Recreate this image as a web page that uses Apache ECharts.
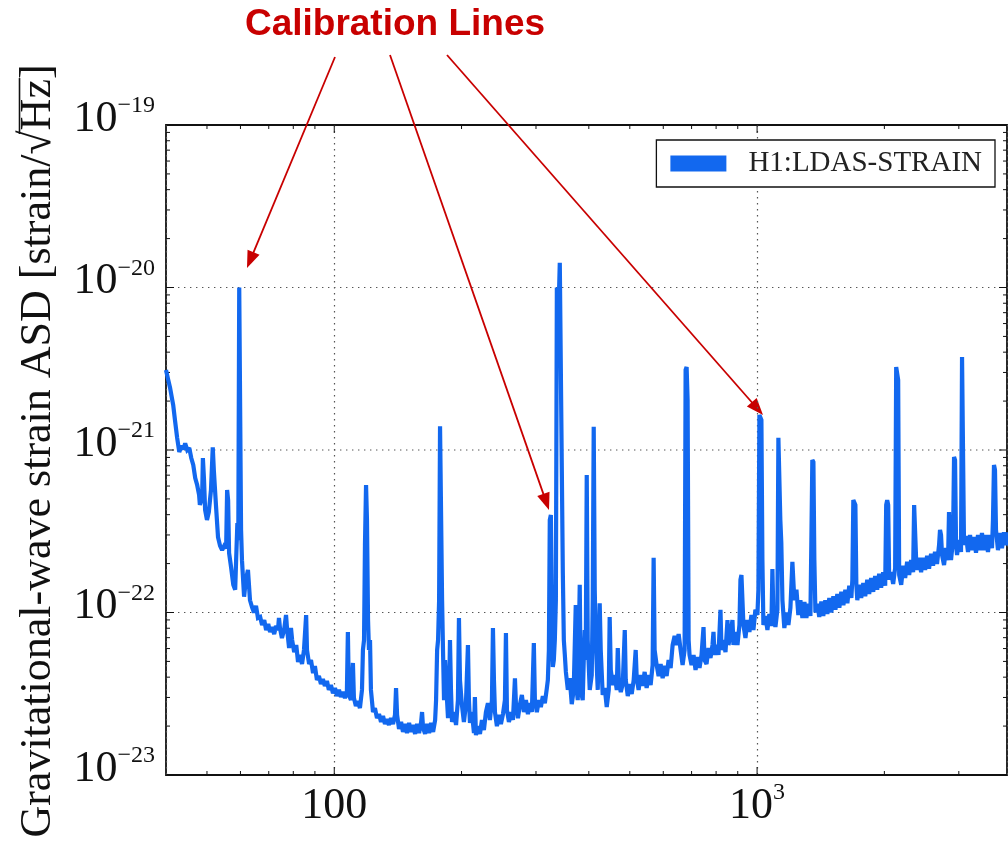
<!DOCTYPE html>
<html>
<head>
<meta charset="utf-8">
<script src="https://cdn.jsdelivr.net/npm/echarts@6/dist/echarts.min.js"></script>
<style>html,body{margin:0;padding:0;background:#fff}#chart{width:1008px;height:842px}</style>
</head>
<body>
<div id="chart"></div>
<script>
// ---- Data: [frequency Hz, ASD strain/sqrt(Hz)] ----
const seismicWall = [
[40.0,3.11e-21],[40.4,2.77e-21],[40.9,2.41e-21],[41.3,2.09e-21],[41.6,1.89e-21],[42.0,1.53e-21],[42.5,1.19e-21],[43.0,9.72e-22],
[43.5,1.06e-21],[44.0,1.01e-21],[44.4,1.10e-21],[44.9,1.00e-21],[45.4,1.03e-21],[45.9,8.93e-22],[46.4,8.09e-22],[46.9,6.73e-22],
[47.4,6.09e-22],[47.9,5.29e-22],[48.1,4.59e-22],[48.7,5.07e-22],[48.9,8.93e-22],[49.2,6.54e-22],[49.5,4.27e-22],[50.0,3.71e-22],
[50.5,4.15e-22],[51.1,5.67e-22],[51.6,1.04e-21],[51.9,7.53e-22],[52.5,4.59e-22],[53.1,2.91e-22],[53.7,2.57e-22],[54.3,2.42e-22],
[54.9,2.57e-22],[55.5,2.49e-22],[55.8,5.67e-22],[56.1,4.92e-22],[56.4,2.32e-22],[57.0,1.91e-22],[57.7,1.48e-22],[58.3,1.38e-22],
[58.6,2.10e-22],[59.0,3.55e-22],[59.3,2.79e-22],[59.6,1.00e-20],[59.9,1.00e-20],[60.2,3.22e-22],[60.5,2.10e-22],[61.2,1.25e-22],
[61.8,1.59e-22],[62.5,1.83e-22],[63.2,1.19e-22],[63.9,1.08e-22],[64.6,1.00e-22],[65.3,1.10e-22],[66.0,9.25e-23]
];
const lowBand = [
[66.8,9.38e-23],[67.5,8.38e-23],[68.3,8.99e-23],[69.0,7.80e-23],[69.8,8.50e-23],[70.5,7.59e-23],[71.3,8.14e-23],[72.1,7.37e-23],
[72.8,8.26e-23],[73.6,7.80e-23],[74.0,9.25e-23],[74.4,8.03e-23],[75.2,6.97e-23],[76.1,7.80e-23],[76.9,9.65e-23],[77.3,8.03e-23],
[78.2,6.05e-23],[79.0,8.03e-23],[79.5,6.77e-23],[80.4,5.71e-23],[81.3,6.31e-23],[82.1,4.96e-23],[83.0,5.48e-23],[83.9,4.82e-23],
[84.8,5.88e-23],[85.8,9.65e-23],[86.2,5.88e-23],[87.2,4.82e-23],[88.1,5.10e-23],[89.1,4.24e-23],[90.0,4.69e-23],[91.0,3.84e-23],
[92.0,4.07e-23],[93.0,3.63e-23],[94.0,3.90e-23],[95.0,3.53e-23],[96.1,3.79e-23],[97.1,3.34e-23],[98.2,3.58e-23],[99.3,3.19e-23],
[100.4,3.43e-23],[101.5,3.06e-23],[102.6,3.34e-23],[103.7,3.02e-23],[104.8,3.24e-23],[106.0,2.98e-23],[107.1,3.15e-23],[107.7,7.59e-23],
[108.3,3.11e-23],[109.5,2.89e-23],[110.7,4.89e-23],[111.3,2.98e-23],[112.5,2.66e-23],[113.8,2.85e-23],[115.0,2.58e-23],[116.3,3.34e-23],
[116.9,5.88e-23],[117.6,6.77e-23],[118.2,2.60e-22],[118.9,6.09e-22],[119.5,3.71e-22],[120.2,8.99e-23],[120.8,5.88e-23],[121.5,6.77e-23],
[122.1,3.34e-23],[123.5,2.44e-23],[124.8,2.58e-23],[126.2,2.24e-23],[127.6,2.37e-23],[129.0,2.12e-23],[130.4,2.31e-23],[131.8,2.06e-23],
[133.3,2.21e-23],[134.7,2.03e-23],[136.2,2.24e-23],[137.7,2.06e-23],[139.2,2.34e-23],[140.0,3.43e-23],[140.8,2.34e-23],[142.3,1.92e-23]
];
const bucket = [
[143.9,2.12e-23],[145.4,1.84e-23],[147.0,2.06e-23],[148.6,1.81e-23],[150.3,2.09e-23],[151.9,1.84e-23],[153.6,2.03e-23],[155.3,1.79e-23],
[157.0,2.06e-23],[158.7,1.81e-23],[160.5,2.12e-23],[161.3,2.44e-23],[162.2,1.95e-23],[164.0,1.79e-23],[165.8,2.06e-23],[167.6,1.81e-23],
[169.4,2.09e-23],[171.3,1.84e-23],[173.2,2.18e-23],[174.1,2.89e-23],[175.1,5.88e-23],[176.0,6.77e-23],[177.0,1.19e-22],[177.9,1.40e-21],
[178.9,1.40e-21],[179.9,1.19e-22],[180.8,5.88e-23],[181.8,2.89e-23],[182.8,5.10e-23],[184.8,2.89e-23],[185.8,2.24e-23],[186.8,2.89e-23],
[187.8,6.77e-23],[188.8,3.34e-23],[189.9,2.12e-23],[192.0,2.44e-23],[194.1,2.03e-23],[196.1,2.89e-23],[197.2,9.25e-23],[198.3,3.84e-23],
[200.4,2.70e-23],[202.6,2.12e-23],[204.8,2.70e-23],[207.1,6.31e-23],[208.2,2.89e-23],[209.4,2.09e-23],[211.6,2.44e-23],[214.0,1.81e-23],
[215.1,3.02e-23],[216.3,1.76e-23],[218.6,2.00e-23],[221.1,1.79e-23],[223.5,2.18e-23],[225.9,1.89e-23],[228.4,2.44e-23],[230.9,2.77e-23],
[233.4,2.18e-23],[236.0,2.89e-23],[237.3,8.03e-23],[238.6,3.84e-23],[239.9,2.44e-23],[242.5,2.00e-23],[245.2,2.34e-23],[247.8,2.06e-23],
[250.6,2.37e-23],[253.3,2.89e-23],[254.7,7.48e-23],[256.1,2.51e-23],[258.9,2.12e-23],[261.7,2.44e-23],[264.6,2.18e-23],[267.5,3.94e-23],
[269.0,2.70e-23],[271.9,2.24e-23],[274.8,2.70e-23],[277.8,3.11e-23],[280.9,2.44e-23],[284.0,2.89e-23],[287.1,2.37e-23],[290.1,2.77e-23],
[293.3,2.44e-23],[296.5,6.49e-23],[298.2,2.89e-23],[301.4,2.44e-23],[304.7,2.89e-23],[308.0,2.62e-23],[311.4,3.06e-23],[314.8,2.77e-23],
[318.3,3.43e-23],[320.0,3.84e-23],[321.8,5.88e-23],[323.4,3.71e-22],[325.3,3.98e-22],[327.1,1.19e-22],[328.8,4.62e-23],[330.6,5.10e-23],
[332.4,6.77e-23],[334.3,1.19e-22],[336.1,1.00e-20],[337.9,1.00e-20],[339.7,8.38e-21],[341.5,1.42e-20],[343.4,1.42e-20],[345.3,7.53e-22],
[347.2,1.75e-22],[349.1,6.77e-23],[351.0,5.48e-23]
];
const midBand = [
[353.0,4.31e-23],[356.8,3.34e-23],[360.5,3.94e-23],[364.5,2.73e-23],[368.4,3.34e-23],[372.5,1.11e-22],[374.5,3.34e-23],[376.6,2.89e-23],
[380.7,1.48e-22],[382.8,3.34e-23],[386.9,2.89e-23],[389.1,5.10e-23],[391.2,7.80e-23],[393.3,5.10e-23],[395.5,7.02e-22],[397.6,6.77e-23],
[402.0,3.34e-23],[406.4,4.12e-23],[408.6,1.19e-22],[410.8,1.39e-21],[413.1,1.38e-22],[415.3,6.77e-23],[419.9,3.34e-23],[424.4,1.14e-22],
[426.8,5.88e-23],[431.4,3.11e-23],[436.2,3.43e-23],[441.0,2.62e-23],[445.9,3.34e-23],[448.1,9.38e-23],[450.8,4.43e-23],[455.7,3.58e-23],
[460.7,4.12e-23],[465.7,3.34e-23],[468.3,6.05e-23],[470.9,3.84e-23],[476.0,3.24e-23],[481.2,3.63e-23],[486.5,7.80e-23],[489.1,3.84e-23],
[494.5,3.06e-23],[499.6,3.63e-23],[505.2,3.15e-23],[510.7,3.84e-23],[516.3,5.88e-23],[519.2,3.94e-23],[524.6,3.34e-23],[530.4,4.12e-23],
[536.2,3.53e-23],[542.1,4.31e-23],[548.0,3.43e-23],[554.0,4.12e-23],[560.0,3.58e-23],[566.2,4.75e-23],[569.3,2.17e-22],[572.4,5.88e-23],
[578.7,4.75e-23],[585.0,4.06e-23],[591.4,4.82e-23],[597.9,3.94e-23],[604.4,4.69e-23],[611.0,4.06e-23],[617.7,5.10e-23],[624.5,4.55e-23],
[631.3,6.31e-23],[638.2,7.17e-23],[645.2,6.31e-23],[652.3,7.37e-23],[659.4,5.88e-23],[666.6,4.75e-23],[673.9,5.88e-23],[677.6,3.11e-21],
[681.3,3.24e-21],[685.0,2.03e-21],[688.8,6.77e-23],[692.2,5.48e-23],[699.9,4.75e-23],[707.6,5.48e-23],[715.3,4.43e-23],[723.2,5.32e-23],
[730.9,4.56e-23],[739.0,5.48e-23],[747.0,8.14e-23],[751.1,5.10e-23],[759.3,4.82e-23],[767.6,6.05e-23],[775.9,5.25e-23],[784.4,6.31e-23],
[788.7,7.59e-23],[793.0,5.48e-23],[801.6,6.31e-23],[810.4,5.48e-23],[819.3,1.04e-22],[823.8,5.88e-23],[832.8,6.77e-23],[841.9,5.71e-23],
[851.1,8.99e-23],[855.7,6.31e-23],[865.1,7.27e-23],[874.5,8.99e-23],[879.3,6.31e-23],[888.9,7.59e-23],[898.6,6.31e-23],[908.4,8.38e-23],
[913.4,1.59e-22],[918.4,1.70e-22],[923.4,1.19e-22],[928.4,8.38e-23],[938.6,6.97e-23],[948.9,8.99e-23],[959.1,7.59e-23],[969.6,9.65e-23],
[980.2,7.80e-23],[990.9,1.04e-22],[1001.8,9.65e-23],[1007.2,1.38e-22],[1012.7,1.64e-21],[1018.2,1.64e-21],[1023.8,1.53e-21],[1029.4,2.10e-22],
[1035.0,8.38e-23]
];
const highBand = [
[1046,9.51e-23],[1058,7.80e-23],[1069,9.79e-23],[1081,8.26e-23],[1087,1.85e-22],[1093,9.65e-23],[1105,8.14e-23],[1117,1.04e-22],
[1123,1.19e-21],[1129,1.19e-21],[1135,3.71e-22],[1141,2.68e-22],[1148,1.19e-22],[1160,8.03e-23],[1173,1.00e-22],[1186,8.38e-23],
[1199,1.07e-22],[1212,2.05e-22],[1218,1.59e-22],[1225,1.19e-22],[1239,1.38e-22],[1252,9.65e-23],[1266,1.19e-22],[1280,9.25e-23],
[1294,1.16e-22],[1308,9.25e-23],[1322,1.13e-22],[1337,9.52e-23],[1344,2.79e-22],[1351,8.68e-22],[1359,8.43e-22],[1366,2.10e-22],
[1374,1.00e-22],[1389,1.13e-22],[1403,9.38e-23],[1419,1.17e-22],[1434,9.52e-23],[1450,1.19e-22],[1466,9.79e-23],[1482,1.23e-22],
[1498,1.00e-22],[1515,1.26e-22],[1532,1.04e-22],[1548,1.30e-22],[1565,1.07e-22],[1582,1.34e-22],[1600,1.11e-22],[1617,1.38e-22],
[1635,1.14e-22],[1652,1.46e-22],[1671,1.23e-22],[1680,1.59e-22],[1689,4.92e-22],[1698,4.92e-22],[1708,4.59e-22],[1717,1.48e-22],
[1726,1.19e-22],[1744,1.48e-22],[1763,1.23e-22],[1783,1.52e-22],[1802,1.26e-22],[1822,1.59e-22],[1841,1.30e-22],[1861,1.63e-22],
[1882,1.34e-22],[1902,1.68e-22],[1923,1.38e-22],[1944,1.73e-22],[1965,1.42e-22],[1987,1.77e-22],[2009,1.46e-22],[2020,4.59e-22],
[2031,4.92e-22],[2042,4.59e-22],[2053,1.59e-22],[2075,1.77e-22],[2098,1.50e-22],[2121,1.88e-22],[2133,3.24e-21],[2144,3.24e-21],
[2156,2.70e-21],[2168,1.70e-22],[2192,1.48e-22],[2216,1.94e-22],[2240,1.63e-22],[2264,2.05e-22],[2289,1.70e-22],[2314,2.10e-22],
[2339,1.77e-22],[2352,4.59e-22],[2365,4.59e-22],[2378,2.10e-22],[2390,1.83e-22],[2416,2.17e-22],[2443,1.77e-22],[2470,2.17e-22],
[2497,1.83e-22],[2524,2.23e-22],[2551,1.86e-22],[2579,2.30e-22],[2607,1.94e-22],[2635,2.36e-22],[2664,1.99e-22],[2694,2.60e-22],
[2708,3.22e-22],[2723,3.00e-22],[2738,2.26e-22],[2768,1.96e-22],[2798,2.49e-22],[2829,2.10e-22],[2844,4.15e-22],[2860,2.42e-22],
[2875,2.10e-22],[2907,2.79e-22],[2923,9.06e-22],[2939,8.68e-22],[2955,2.60e-22],[2971,2.26e-22],[3003,2.79e-22],[3036,2.36e-22],
[3053,3.73e-21],[3069,3.73e-21],[3086,2.60e-22],[3120,2.96e-22],[3154,2.36e-22],[3189,3.00e-22],[3223,2.42e-22],[3259,2.91e-22],
[3294,2.33e-22],[3330,3.00e-22],[3367,2.42e-22],[3403,3.08e-22],[3441,2.42e-22],[3478,3.00e-22],[3516,2.36e-22],[3555,3.00e-22],
[3594,2.49e-22],[3613,3.71e-22],[3633,8.09e-22],[3653,7.53e-22],[3673,3.22e-22],[3713,2.42e-22],[3754,3.08e-22],[3795,2.49e-22],
[3836,3.12e-22],[3878,2.60e-22],[3920,3.12e-22]
];

// ---- Axes / ticks / texts ----
const X_MIN = 40, X_MAX = 3900, Y_MIN = 1e-23, Y_MAX = 1e-19;
const xMajorTicks = [100, 1000];
const xMajorLabels = ['100', '10^3'];
const xMinorTicks = [50, 60, 70, 80, 90, 200, 300, 400, 500, 600, 700, 800, 900, 2000, 3000];
const yMajorTicks = [1e-23, 1e-22, 1e-21, 1e-20, 1e-19];
const yMajorLabels = ['10^−23', '10^−22', '10^−21', '10^−20', '10^−19'];
const yMinorTicks = [
  2e-23, 3e-23, 4e-23, 5e-23, 6e-23, 7e-23, 8e-23, 9e-23,
  2e-22, 3e-22, 4e-22, 5e-22, 6e-22, 7e-22, 8e-22, 9e-22,
  2e-21, 3e-21, 4e-21, 5e-21, 6e-21, 7e-21, 8e-21, 9e-21,
  2e-20, 3e-20, 4e-20, 5e-20, 6e-20, 7e-20, 8e-20, 9e-20
];
const seriesName = 'H1:LDAS-STRAIN';
const yTitle = 'Gravitational-wave strain ASD [strain/√Hz]';
const annotationText = 'Calibration Lines';

// ---- Styling ----
const LINE_COLOR = '#1268ef';
const RED = '#c80000';
const INK = '#111';
const SERIF = '"Liberation Serif", "DejaVu Serif", serif';
const GRID_DASH = [1.4, 4.6];
const GRID_COLOR = '#555';

const allPoints = [].concat(seismicWall, lowBand, bucket, midBand, highBand);

function toRich(label) {
  const parts = label.split('^');
  return parts.length > 1 ? '{b|' + parts[0] + '}{s|' + parts[1] + '}' : '{b|' + parts[0] + '}';
}
const richStyle = {
  b: { fontFamily: SERIF, fontSize: 44, lineHeight: 50, color: INK, fill: INK },
  s: { fontFamily: SERIF, fontSize: 24, lineHeight: 30, verticalAlign: 'top', color: INK, fill: INK }
};

const chart = echarts.init(document.getElementById('chart'), null, { renderer: 'canvas' });

// measure title for sqrt overline
const ctx = document.createElement('canvas').getContext('2d');
const TITLE_FS = 44;
const TITLE_FONT = TITLE_FS + 'px ' + SERIF;
ctx.font = TITLE_FONT;
const titleW = ctx.measureText(yTitle).width;
const hzIdx = yTitle.indexOf('Hz');
const preW = ctx.measureText(yTitle.slice(0, hzIdx)).width;
const hzW = ctx.measureText('Hz').width;
const sqrtW = ctx.measureText('√').width;

function arrow(from, to) {
  const dx = to[0] - from[0], dy = to[1] - from[1];
  const L = Math.hypot(dx, dy), ux = dx / L, uy = dy / L;
  const hl = 17, hw = 6.5;
  const bx = to[0] - ux * hl, by = to[1] - uy * hl;
  return [
    { type: 'line', silent: true, shape: { x1: from[0], y1: from[1], x2: bx + ux * 2, y2: by + uy * 2 }, style: { stroke: RED, lineWidth: 1.8 } },
    { type: 'polygon', silent: true, shape: { points: [[to[0], to[1]], [bx - uy * hw, by + ux * hw], [bx + uy * hw, by - ux * hw]] }, style: { fill: RED } }
  ];
}
const calibArrows = [
  { from: [335, 57], to: [247, 268] },
  { from: [390, 55], to: [549, 510] },
  { from: [447, 55], to: [763, 415] }
];

const graphics = [
  {
    type: 'group', x: 38, y: 451, rotation: Math.PI / 2, silent: true,
    children: [
      { type: 'text', x: 0, y: 0, style: { text: yTitle, font: TITLE_FONT, fill: INK, align: 'center', verticalAlign: 'middle' } },
      { type: 'line', shape: { x1: -titleW / 2 + preW - sqrtW * 0.15, y1: -TITLE_FS * 0.42, x2: -titleW / 2 + preW + hzW + 1, y2: -TITLE_FS * 0.42 }, style: { stroke: INK, lineWidth: 1.6 } }
    ]
  },
  { type: 'text', x: 395, y: 25, silent: true, style: { text: annotationText, font: 'bold 37px "Liberation Sans", Arial, sans-serif', fill: RED, align: 'center', verticalAlign: 'middle' } }
];
calibArrows.forEach(function (a) { arrow(a.from, a.to).forEach(function (el) { graphics.push(el); }); });

const option = {
  animation: false,
  backgroundColor: '#fff',
  grid: { left: 166, right: 1, top: 125, bottom: 67, show: true, borderColor: INK, borderWidth: 1.8, backgroundColor: 'transparent', containLabel: false, outerBoundsMode: 'none' },
  legend: {
    data: [seriesName], right: 13, top: 140, orient: 'horizontal',
    backgroundColor: '#fff', borderColor: INK, borderWidth: 1.3, borderRadius: 0,
    padding: [9, 13, 9, 14], itemWidth: 56, itemHeight: 16, icon: 'rect',
    textStyle: { fontFamily: SERIF, fontSize: 29, color: '#222', padding: [0, 0, 0, 17] },
    selectedMode: false
  },
  xAxis: [{
    type: 'log', logBase: 10, min: X_MIN, max: X_MAX, position: 'bottom',
    axisLine: { show: false }, axisTick: { show: false },
    axisLabel: {
      show: true, margin: 6,
      formatter: function (v) {
        const i = xMajorTicks.indexOf(Math.round(v));
        return i >= 0 ? toRich(xMajorLabels[i]) : '';
      },
      rich: richStyle
    },
    splitLine: { show: true, lineStyle: { color: GRID_COLOR, width: 1.2, type: GRID_DASH } },
    minorTick: { show: false }, minorSplitLine: { show: false }
  }],
  yAxis: [{
    type: 'log', logBase: 10, min: Y_MIN, max: Y_MAX,
    axisLine: { show: false }, axisTick: { show: false }, axisLabel: { show: false }, splitLine: { show: false }
  }],
  series: [
    {
      name: 'yMajorDecor', type: 'custom', silent: true, z: 1, clip: false,
      data: yMajorTicks.map(function (v) { return [X_MIN, v]; }),
      renderItem: function (params, api) {
        const v = api.value(1);
        const pL = api.coord([X_MIN, v]);
        const pR = api.coord([X_MAX, v]);
        const idx = params.dataIndex;
        const kids = [
          { type: 'line', shape: { x1: pL[0], y1: pL[1], x2: pL[0] + 8, y2: pL[1] }, style: { stroke: INK, lineWidth: 1 } },
          { type: 'line', shape: { x1: pR[0] - 8, y1: pR[1], x2: pR[0], y2: pR[1] }, style: { stroke: INK, lineWidth: 1 } },
          { type: 'text', x: pL[0] - 11, y: pL[1] - 6, style: { text: toRich(yMajorLabels[idx]), align: 'right', verticalAlign: 'middle', rich: richStyle } }
        ];
        if (v !== Y_MIN && v !== Y_MAX) {
          kids.unshift({ type: 'line', shape: { x1: pL[0], y1: pL[1], x2: pR[0], y2: pR[1] }, style: { stroke: GRID_COLOR, lineWidth: 1.2, lineDash: GRID_DASH } });
        }
        return { type: 'group', children: kids };
      }
    },
    {
      name: 'yMinorDecor', type: 'custom', silent: true, z: 1, clip: false,
      data: yMinorTicks.map(function (v) { return [X_MIN, v]; }),
      renderItem: function (params, api) {
        const v = api.value(1);
        const pL = api.coord([X_MIN, v]);
        const pR = api.coord([X_MAX, v]);
        return { type: 'group', children: [
          { type: 'line', shape: { x1: pL[0], y1: pL[1], x2: pL[0] + 4, y2: pL[1] }, style: { stroke: INK, lineWidth: 1 } },
          { type: 'line', shape: { x1: pR[0] - 4, y1: pR[1], x2: pR[0], y2: pR[1] }, style: { stroke: INK, lineWidth: 1 } }
        ] };
      }
    },
    {
      name: 'xMajorDecor', type: 'custom', silent: true, z: 1, clip: false,
      data: xMajorTicks.map(function (f) { return [f, Y_MIN]; }),
      renderItem: function (params, api) {
        const f = api.value(0);
        const pB = api.coord([f, Y_MIN]);
        const pT = api.coord([f, Y_MAX]);
        return { type: 'group', children: [
          { type: 'line', shape: { x1: pB[0], y1: pB[1], x2: pB[0], y2: pB[1] - 8 }, style: { stroke: INK, lineWidth: 1 } },
          { type: 'line', shape: { x1: pT[0], y1: pT[1], x2: pT[0], y2: pT[1] + 8 }, style: { stroke: INK, lineWidth: 1 } }
        ] };
      }
    },
    {
      name: 'xMinorDecor', type: 'custom', silent: true, z: 1, clip: false,
      data: xMinorTicks.map(function (f) { return [f, Y_MIN]; }),
      renderItem: function (params, api) {
        const f = api.value(0);
        const pB = api.coord([f, Y_MIN]);
        const pT = api.coord([f, Y_MAX]);
        return { type: 'group', children: [
          { type: 'line', shape: { x1: pB[0], y1: pB[1], x2: pB[0], y2: pB[1] - 4 }, style: { stroke: INK, lineWidth: 1 } },
          { type: 'line', shape: { x1: pT[0], y1: pT[1], x2: pT[0], y2: pT[1] + 4 }, style: { stroke: INK, lineWidth: 1 } }
        ] };
      }
    },
    {
      name: seriesName, type: 'line', data: allPoints, z: 3,
      symbol: 'none', showSymbol: false, smooth: false, clip: true, sampling: null,
      lineStyle: { color: LINE_COLOR, width: 4.2, join: 'miter', miterLimit: 2 },
      itemStyle: { color: LINE_COLOR }
    }
  ],
  graphic: graphics
};

chart.setOption(option);
</script>
</body>
</html>
